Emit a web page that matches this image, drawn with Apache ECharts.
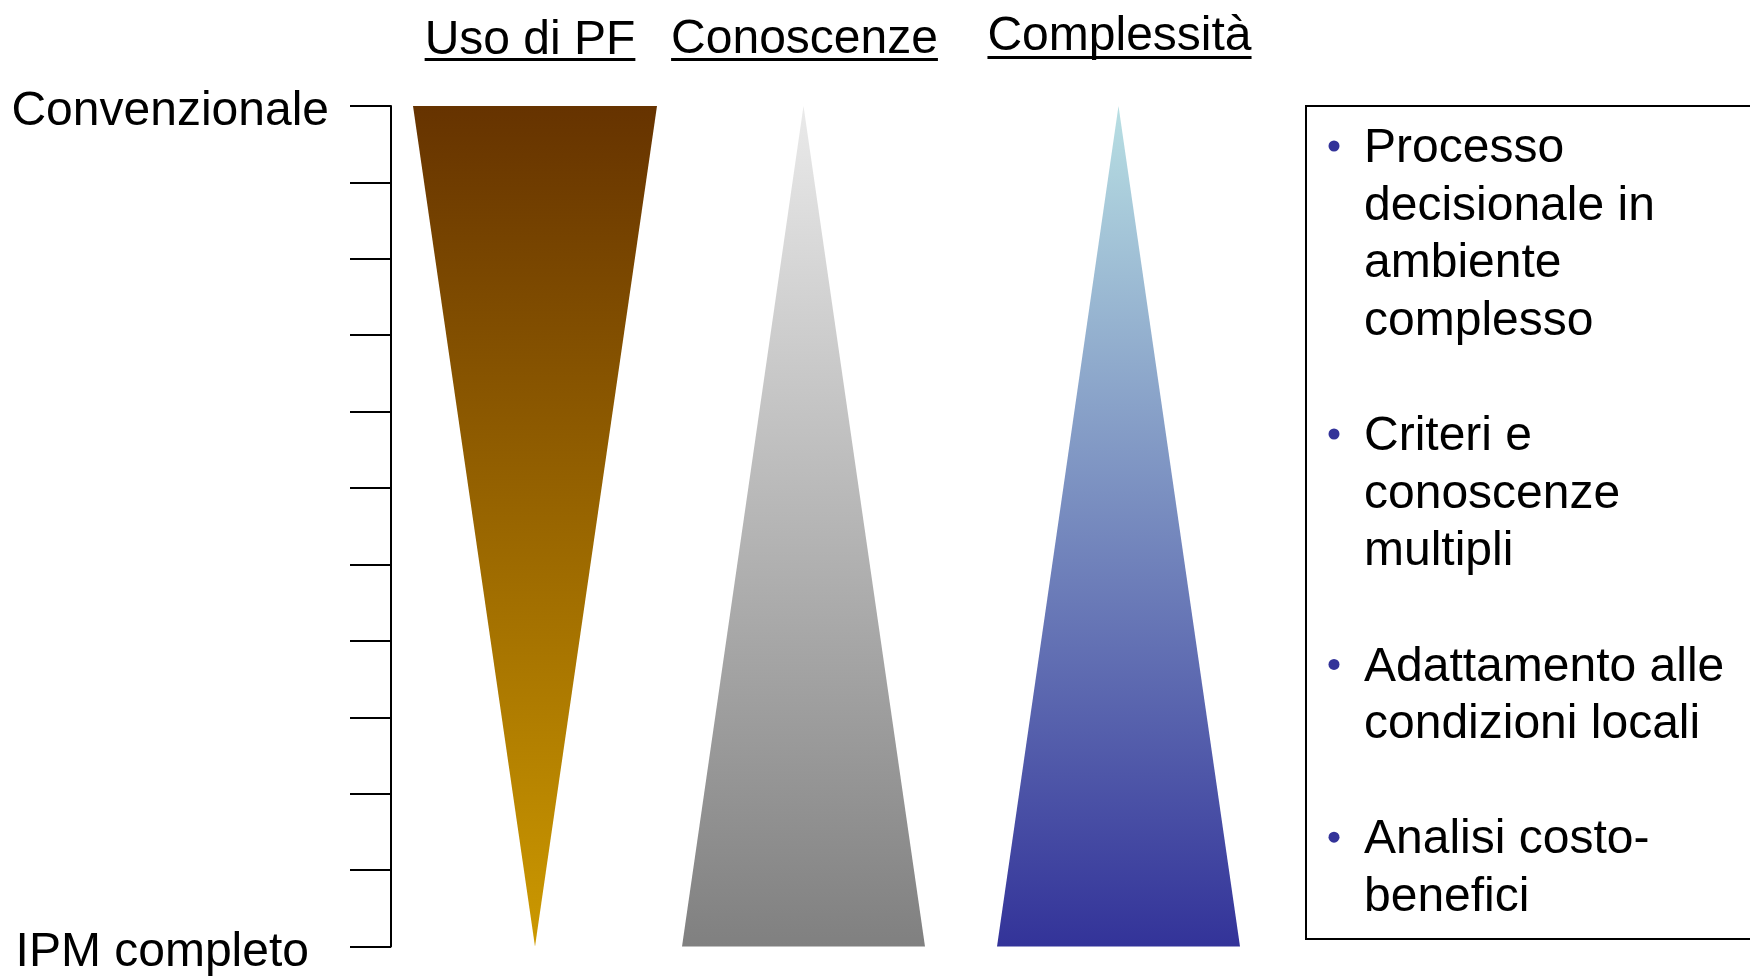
<!DOCTYPE html>
<html>
<head>
<meta charset="utf-8">
<script src="https://cdn.jsdelivr.net/npm/echarts@6/dist/echarts.min.js"></script>
<style>
html,body{margin:0;padding:0;background:#fff;}
#chart{width:1750px;height:977px;}
</style>
</head>
<body>
<div id="chart"></div>
<script>
// ---- data ----
const categories = ['Uso di PF', 'Conoscenze', 'Complessità'];
const centers = [1.44, 4.125, 7.275];          // x position (axis units)
const halfWidths = [1.22, 1.215, 1.215];       // half base width (axis units)
const directions = ['down', 'up', 'up'];       // wide end at top (down) or bottom (up)
const topLevel = [0, 0, 0];
const bottomLevel = [11, 11, 11];
const levelLabels = { 0: 'Convenzionale', 11: 'IPM completo' };
const bulletItems = [
  ['Processo', 'decisionale in', 'ambiente', 'complesso'],
  ['Criteri e', 'conoscenze', 'multipli'],
  ['Adattamento alle', 'condizioni locali'],
  ['Analisi costo-', 'benefici']
];

// ---- styles ----
const FONT = '"Liberation Sans", Arial, Helvetica, sans-serif';
const topColors = ['#663300', '#EAEAEA', '#B8DFE3'];
const bottomColors = ['#CC9900', '#808080', '#333399'];
const titleDx = [-5, 1, 1];
const titleDy = [-65, -66, -69];
const underlineDy = [-48, -48, -50];

const measureCtx = document.createElement('canvas').getContext('2d');
measureCtx.font = '48px ' + FONT;

const chart = echarts.init(document.getElementById('chart'), null, { renderer: 'canvas' });

const seriesData = categories.map((c, i) => [centers[i], halfWidths[i], topLevel[i], bottomLevel[i]]);

// box text
const boxLines = [];
const bulletLineIdx = [];
bulletItems.forEach((item, k) => {
  if (k > 0) boxLines.push('');
  bulletLineIdx.push(boxLines.length);
  item.forEach(l => boxLines.push(l));
});
const LH = 57.6, firstCenter = 149;
const graphics = [
  { type: 'rect', shape: { x: 1306, y: 106, width: 600, height: 833 },
    style: { fill: 'none', stroke: '#000', lineWidth: 2 } },
  { type: 'text', x: 1364, y: firstCenter - LH / 2,
    style: { text: boxLines.join('\n'), font: '48px ' + FONT, fill: '#000',
      lineHeight: LH, verticalAlign: 'top', align: 'left' } }
];
bulletLineIdx.forEach(idx => {
  graphics.push({ type: 'circle', shape: { cx: 1334, cy: firstCenter - 3 + idx * LH, r: 5.5 },
    style: { fill: '#333399' } });
});

const option = {
  backgroundColor: '#fff',
  animation: false,
  grid: { left: 391, right: 444, top: 106, bottom: 27, containLabel: false },
  xAxis: { type: 'value', min: 0, max: 9.15, show: false },
  yAxis: {
    type: 'value', min: 0, max: 11, interval: 1, inverse: true,
    axisLine: { show: true, lineStyle: { color: '#000', width: 2 } },
    axisTick: { show: true, length: 41, lineStyle: { color: '#000', width: 2 } },
    splitLine: { show: false },
    axisLabel: {
      show: true, margin: 62, align: 'right', showMinLabel: true, showMaxLabel: true,
      formatter: v => v === 0 ? '{a|' + levelLabels[0] + '}' : (v === 11 ? '{b|' + levelLabels[11] + '}' : ''),
      rich: {
        a: { fontSize: 48, fontFamily: FONT, color: '#000', padding: [11, 0, 0, 0] },
        b: { fontSize: 48, fontFamily: FONT, color: '#000', padding: [13, 20, 0, 0] }
      }
    }
  },
  series: [{
    type: 'custom',
    clip: false,
    encode: { x: [0], y: [2, 3] },
    data: seriesData,
    renderItem: (params, api) => {
      const i = params.dataIndex;
      const c = api.value(0), hw = api.value(1), t = api.value(2), b = api.value(3);
      let pts;
      if (directions[i] === 'down') {
        pts = [api.coord([c - hw, t]), api.coord([c + hw, t]), api.coord([c, b])];
      } else {
        pts = [api.coord([c, t]), api.coord([c + hw, b]), api.coord([c - hw, b])];
      }
      const top = api.coord([c, t]);
      const w = measureCtx.measureText(categories[i]).width;
      const tx = top[0] + titleDx[i];
      return {
        type: 'group',
        children: [
          { type: 'polygon', shape: { points: pts },
            style: { fill: new echarts.graphic.LinearGradient(0, 0, 0, 1, [
              { offset: 0, color: topColors[i] }, { offset: 1, color: bottomColors[i] }]) } },
          { type: 'text', x: tx, y: top[1] + titleDy[i],
            style: { text: categories[i], font: '48px ' + FONT, fill: '#000',
              align: 'center', verticalAlign: 'middle' } },
          { type: 'rect', shape: { x: tx - w / 2, y: top[1] + underlineDy[i], width: w, height: 3 },
            style: { fill: '#000' } }
        ]
      };
    }
  }],
  graphic: graphics
};
chart.setOption(option);
</script>
</body>
</html>
